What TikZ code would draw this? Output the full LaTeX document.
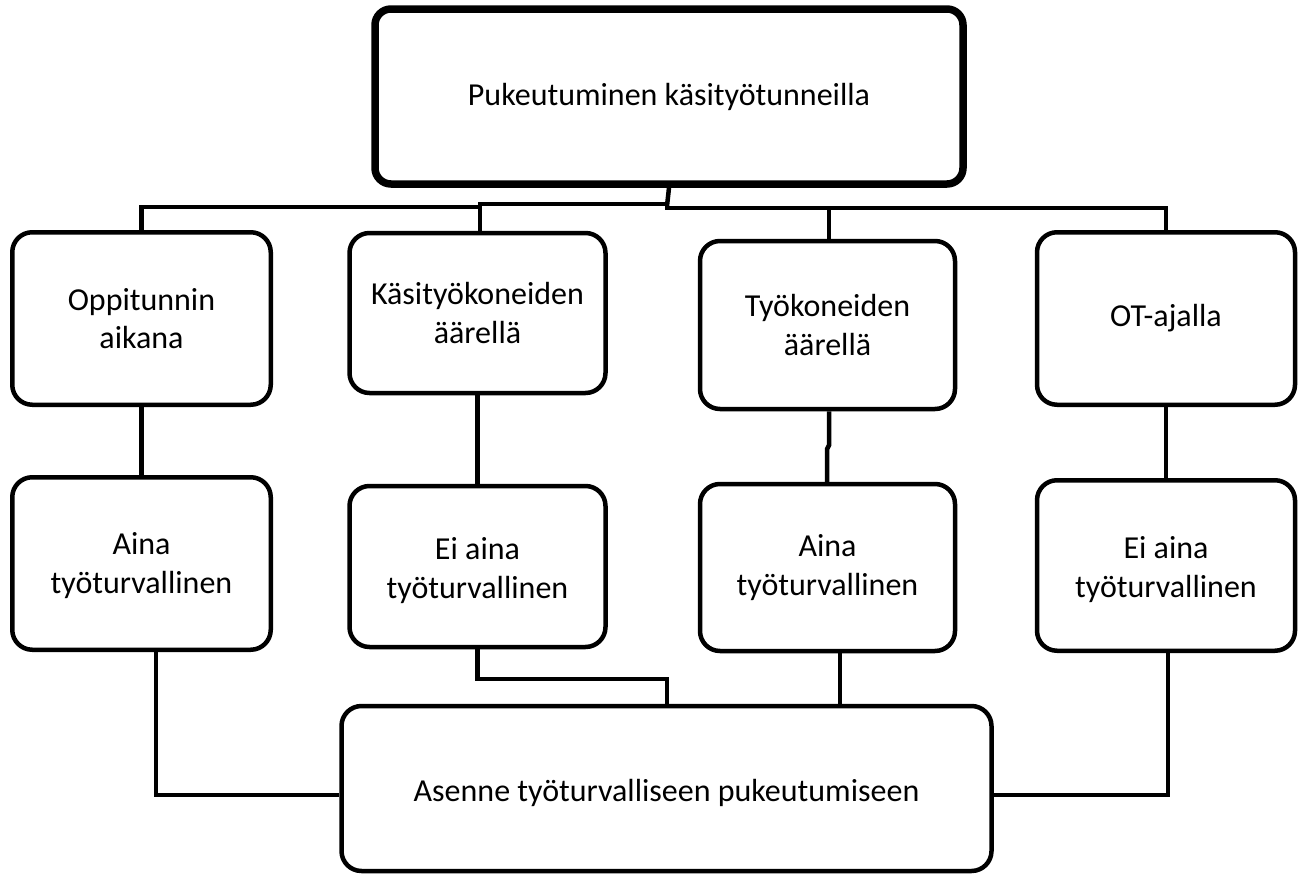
\documentclass[tikz,border=0pt]{standalone}
\usepackage{fontspec}
\setmainfont{Carlito}
\usetikzlibrary{calc}
\begin{document}
\begin{tikzpicture}[x=1pt,y=-1pt,
  box/.style={draw,line width=4.5pt,rounded corners=20pt,inner sep=0pt,fill=white},
  topbox/.style={box,line width=7.5pt,rounded corners=16pt},
  txt/.style={align=center,font=\fontsize{32}{38.5}\selectfont,inner sep=0pt},
  conn/.style={line width=4.5pt,line join=miter}]
\useasboundingbox (0,0) rectangle (1306,878);

% top level
\node[topbox,minimum width=588pt,minimum height=175pt] (top) at (669,96.5) {};
\node[txt] (topt) at (top.center) {Pukeutuminen käsityötunneilla};

% situations
\node[box,minimum width=258.5pt,minimum height=172.5pt] (a1) at (141.5,318.5) {};
\node[box,minimum width=256pt,minimum height=160pt] (a2) at (477.5,313) {};
\node[box,minimum width=255pt,minimum height=168pt] (a3) at (827.5,325) {};
\node[box,minimum width=258pt,minimum height=172.5pt] (a4) at (1166,318.5) {};
\node[txt] (a1t) at (a1.center) {Oppitunnin\\aikana};
\node[txt] (a2t) at (a2.center) {Käsityökoneiden\\äärellä};
\node[txt] (a3t) at (a3.center) {Työkoneiden\\äärellä};
\node[txt] (a4t) at (a4.center) {OT-ajalla};

% assessments
\node[box,minimum width=258.5pt,minimum height=172.5pt] (b1) at (141.5,563.5) {};
\node[box,minimum width=256pt,minimum height=161pt] (b2) at (477.5,566.5) {};
\node[box,minimum width=255pt,minimum height=167pt] (b3) at (827.5,567.5) {};
\node[box,minimum width=258pt,minimum height=170.5pt] (b4) at (1166,565.5) {};
\node[txt] (b1t) at ($(b1.center)+(0,2)$) {Aina\\työturvallinen};
\node[txt] (b2t) at ($(b2.center)+(0,4)$) {Ei aina\\työturvallinen};
\node[txt] (b3t) at (b3.center) {Aina\\työturvallinen};
\node[txt] (b4t) at ($(b4.center)+(0,4)$) {Ei aina\\työturvallinen};

% attitude
\node[box,minimum width=650pt,minimum height=165pt] (c) at (666.5,788.5) {};
\node[txt] (ct) at ($(c.center)+(0,4)$) {Asenne työturvalliseen pukeutumiseen};

% tree from the top box
\coordinate (j0) at (667,206);
\draw[conn] (top.south) -- (j0);
\draw[conn] (a1.north) |- (480,207) -- (480,204) -- (667,204) -- (667,208) -| (a4.north);
\draw[conn] ($(a2.north)+(2.5,0)$) -- (480,204);
\draw[conn] ($(a3.north)+(1.5,0)$) -- (829,208);

% situation to assessment
\draw[conn] (a1.south) -- (b1.north);
\draw[conn] (a2.south) -- (b2.north);
\draw[conn] ($(a3.south)+(1.5,0)$) -- ++(0,34) -- ++(-2,4) -- ($(b3.north)+(-0.5,0)$);
\draw[conn] (a4.south) -- (b4.north);

% assessment to attitude
\coordinate (k1) at ($(b1.south)+(14.5,0)$);
\draw[conn] (k1) |- ($(c.west)+(0,6.5)$);
\draw[conn] (b2.south) |- ($(c.north)+(0.5,-25)$) -- ($(c.north)+(0.5,0)$);
\coordinate (k3) at ($(b3.south)+(12.5,0)$);
\draw[conn] (k3) -- (k3 |- c.north);
\coordinate (k4) at ($(b4.south)+(2,0)$);
\draw[conn] (k4) |- ($(c.east)+(0,6.5)$);
\end{tikzpicture}
\end{document}
